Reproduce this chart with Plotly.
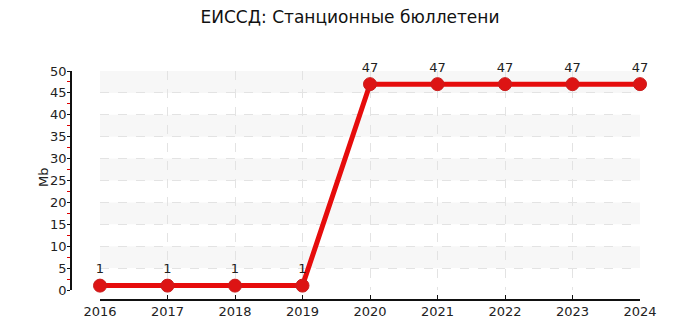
import plotly.graph_objects as go

years = [2016, 2017, 2018, 2019, 2020, 2021, 2022, 2023, 2024]
values = [1, 1, 1, 1, 47, 47, 47, 47, 47]
title = "ЕИССД: Станционные бюллетени"
y_title = "Mb"
band_starts = [5, 15, 25, 35, 45]

W, H = 700, 325
fig = go.Figure()
fig.add_trace(go.Scatter(
    x=years, y=values, mode="lines+markers+text",
    text=[str(v) for v in values], textposition="top center",
    textfont=dict(family="DejaVu Sans", size=13, color="#222"),
    line=dict(color="#e60c0c", width=5),
    marker=dict(size=13, color="#dd1414", line=dict(color="#c81e1e", width=1)),
    cliponaxis=False, showlegend=False,
))
for b in band_starts:
    fig.add_shape(type="rect", xref="x", yref="y", x0=years[0], x1=years[-1],
                  y0=b, y1=b + 5, fillcolor="#f7f7f7", line_width=0, layer="below")

fig.add_annotation(text=y_title, xref="paper", yref="paper", x=43 / W, y=1 - 178 / H,
                   xanchor="center", yanchor="middle", textangle=-90, showarrow=False,
                   font=dict(family="DejaVu Sans", size=13, color="#222"))

fig.update_layout(
    width=W, height=H,
    margin=dict(l=0, r=0, t=0, b=0, autoexpand=False),
    paper_bgcolor="white", plot_bgcolor="white",
    font=dict(family="DejaVu Sans", size=12, color="#222"),
    title=dict(text=title, x=0.5, xanchor="center", y=1 - 17 / H, yanchor="middle",
               font=dict(family="DejaVu Sans", size=17, color="#111")),
    xaxis=dict(domain=[100 / W, 640 / W], range=[years[0], years[-1]],
               anchor="free", position=1 - 300 / H, automargin=False,
               tickmode="array", tickvals=years, ticktext=[str(y) for y in years],
               ticks="inside", ticklen=4, tickcolor="#111",
               showline=True, linecolor="#111", linewidth=1.5,
               showgrid=True, gridcolor="#e3e3e3", griddash="dash", gridwidth=1,
               zeroline=False, tickfont=dict(size=13, color="#222")),
    yaxis=dict(domain=[1 - 290 / H, 1 - 71 / H], range=[0, 50],
               anchor="free", position=71 / W, automargin=False,
               tickmode="linear", tick0=0, dtick=5,
               ticks="outside", ticklen=3, tickcolor="#111", ticklabelstandoff=-2,
               minor=dict(ticks="outside", dtick=2.5, ticklen=3, tickcolor="#dd0000", showgrid=False),
               showline=True, linecolor="#111", linewidth=1.5,
               showgrid=True, gridcolor="#e3e3e3", griddash="dash", gridwidth=1,
               zeroline=False, tickfont=dict(size=13, color="#222")),
)
fig.write_html("out.html")
